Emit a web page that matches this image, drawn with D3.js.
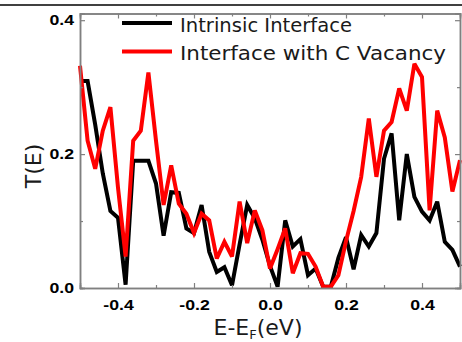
<!DOCTYPE html>
<html>
<head>
<meta charset="utf-8">
<script src="https://cdn.jsdelivr.net/npm/d3@7"></script>
<style>
    body { margin: 0; background: #fff; }
    svg { display: block; }
</style>
</head>
<body>
<div id="chart-container"></div>
<script>
const WIDTH = 462;
const HEIGHT = 342;
const LINE_WIDTH = 4;
const AXIS_COLOR = '#808080';

// energies E - E_F (eV)
const energies = [
    -0.50, -0.48, -0.46, -0.44, -0.42, -0.40, -0.38, -0.36, -0.34, -0.32,
    -0.30, -0.28, -0.26, -0.24, -0.22, -0.20, -0.18, -0.16, -0.14, -0.12,
    -0.10, -0.08, -0.06, -0.04, -0.02, 0.00, 0.02, 0.04, 0.06, 0.08,
    0.10, 0.12, 0.14, 0.16, 0.18, 0.20, 0.22, 0.24, 0.26, 0.28,
    0.30, 0.32, 0.34, 0.36, 0.38, 0.40, 0.42, 0.44, 0.46, 0.48, 0.50,
];

const intrinsic = [
    0.309, 0.309, 0.244, 0.171, 0.115, 0.105, 0.005, 0.190, 0.190, 0.190,
    0.156, 0.078, 0.143, 0.142, 0.089, 0.082, 0.124, 0.054, 0.024, 0.031,
    0.004, 0.065, 0.124, 0.104, 0.072, 0.033, 0.002, 0.101, 0.062, 0.073,
    0.019, 0.029, 0.002, 0.002, 0.045, 0.076, 0.028, 0.079, 0.062, 0.082,
    0.193, 0.231, 0.101, 0.200, 0.136, 0.114, 0.101, 0.129, 0.069, 0.057, 0.032,
];

const cVacancy = [
    0.332, 0.220, 0.178, 0.235, 0.270, 0.150, 0.047, 0.220, 0.235, 0.322,
    0.220, 0.124, 0.183, 0.126, 0.111, 0.082, 0.111, 0.101, 0.044, 0.069,
    0.047, 0.129, 0.067, 0.116, 0.086, 0.029, 0.058, 0.089, 0.022, 0.052,
    0.051, 0.032, 0.002, 0.002, 0.019, 0.070, 0.115, 0.166, 0.253, 0.166,
    0.235, 0.248, 0.298, 0.265, 0.335, 0.315, 0.116, 0.265, 0.225, 0.144, 0.191,
];

const seriesNames = ['Intrinsic Interface', 'Interface with C Vacancy'];
const seriesColors = ['#000000', '#ff0000'];

const xMajorTicks = [-0.4, -0.2, 0, 0.2, 0.4];
const xMinorTicks = [-0.3, -0.1, 0.1, 0.3];
const yMajorTicks = [0, 0.2, 0.4];
const yMinorTicks = [0.1, 0.3];

const plot = { left: 80, right: 460, top: 13.5, bottom: 288 };

const x = d3.scaleLinear().domain([-0.5, 0.5]).range([plot.left, plot.right]);
const y = d3.scaleLinear().domain([0, 0.41]).range([plot.bottom, plot.top]);

const svg = d3
    .select('#chart-container')
    .append('svg')
    .attr('width', WIDTH)
    .attr('height', HEIGHT);

// stray rule along the top of the figure
svg.append('line')
    .attr('x1', 0)
    .attr('x2', WIDTH)
    .attr('y1', 5)
    .attr('y2', 5)
    .attr('stroke', '#000')
    .attr('stroke-width', 1.5);

const series = [intrinsic, cVacancy].map((values, i) => ({
    name: seriesNames[i],
    color: seriesColors[i],
    points: energies.map((e, j) => ({ e, t: values[j] })),
}));

const line = d3
    .line()
    .x((d) => x(d.e))
    .y((d) => y(d.t));

svg.append('g')
    .selectAll('path')
    .data(series)
    .join('path')
    .attr('d', (d) => line(d.points))
    .attr('fill', 'none')
    .attr('stroke', (d) => d.color)
    .attr('stroke-width', LINE_WIDTH)
    .attr('stroke-linejoin', 'miter')
    .attr('stroke-miterlimit', 3);

const fmt = (d) => d.toFixed(1);

function styleAxis(g) {
    g.selectAll('.domain').attr('stroke', AXIS_COLOR).attr('stroke-width', 1.5);
    g.selectAll('.tick line').attr('stroke', AXIS_COLOR).attr('stroke-width', 1.2);
    g.selectAll('.tick text')
        .attr('fill', '#000')
        .attr('font-family', '"Liberation Sans", Arial, sans-serif')
        .attr('font-weight', 'bold')
        .attr('font-size', 15);
}

// bottom
svg.append('g')
    .attr('transform', `translate(0,${plot.bottom})`)
    .call(d3.axisBottom(x).tickValues(xMinorTicks).tickSize(-3).tickFormat(''))
    .call(styleAxis);
const xAxis = svg.append('g')
    .attr('transform', `translate(0,${plot.bottom})`)
    .call(d3.axisBottom(x).tickValues(xMajorTicks).tickSize(-5).tickPadding(11).tickFormat(fmt))
    .call(styleAxis);
xAxis.selectAll('.tick text').attr('transform', 'scale(1.18,1)');

// top
svg.append('g')
    .attr('transform', `translate(0,${plot.top})`)
    .call(d3.axisTop(x).tickValues(xMinorTicks).tickSize(-3).tickFormat(''))
    .call(styleAxis);
svg.append('g')
    .attr('transform', `translate(0,${plot.top})`)
    .call(d3.axisTop(x).tickValues(xMajorTicks).tickSize(-5).tickFormat(''))
    .call(styleAxis);

// left
svg.append('g')
    .attr('transform', `translate(${plot.left},0)`)
    .call(d3.axisLeft(y).tickValues(yMinorTicks).tickSize(-3).tickFormat(''))
    .call(styleAxis);
const yAxis = svg.append('g')
    .attr('transform', `translate(${plot.left},0)`)
    .call(d3.axisLeft(y).tickValues(yMajorTicks).tickSize(-5).tickFormat(fmt))
    .call(styleAxis);
yAxis.selectAll('.tick text').attr('x', -5).attr('transform', 'scale(1.18,1)');

// right
svg.append('g')
    .attr('transform', `translate(${plot.right},0)`)
    .call(d3.axisRight(y).tickValues(yMinorTicks).tickSize(-3).tickFormat(''))
    .call(styleAxis);
svg.append('g')
    .attr('transform', `translate(${plot.right},0)`)
    .call(d3.axisRight(y).tickValues(yMajorTicks).tickSize(-5).tickFormat(''))
    .call(styleAxis);

const TITLE_FONT = '"DejaVu Sans", Verdana, sans-serif';
const TITLE_COLOR = '#1a1a1a';

// axis titles
const xTitle = svg.append('text')
    .attr('x', 258)
    .attr('y', 335)
    .attr('text-anchor', 'middle')
    .attr('font-family', TITLE_FONT)
    .attr('font-size', 22)
    .attr('fill', TITLE_COLOR);
xTitle.append('tspan').text('E-E');
xTitle.append('tspan').attr('font-size', 13).attr('dy', 3.5).text('F');
xTitle.append('tspan').attr('dy', -3.5).text('(eV)');

svg.append('text')
    .attr('transform', 'translate(41,166) rotate(-90)')
    .attr('text-anchor', 'middle')
    .attr('font-family', TITLE_FONT)
    .attr('font-size', 22)
    .attr('fill', TITLE_COLOR)
    .text('T(E)');

// legend
const legend = svg.append('g')
    .selectAll('g')
    .data(series)
    .join('g')
    .attr('transform', (d, i) => `translate(122,${23 + i * 28.5})`);
legend.append('line')
    .attr('x1', 0)
    .attr('x2', 50)
    .attr('stroke', (d) => d.color)
    .attr('stroke-width', LINE_WIDTH);
legend.append('text')
    .attr('x', 58)
    .attr('y', 8.5)
    .attr('font-family', TITLE_FONT)
    .attr('font-size', 20)
    .attr('fill', TITLE_COLOR)
    .attr('textLength', (d, i) => (i === 0 ? 172 : 266))
    .attr('lengthAdjust', 'spacingAndGlyphs')
    .text((d) => d.name);
</script>
</body>
</html>
